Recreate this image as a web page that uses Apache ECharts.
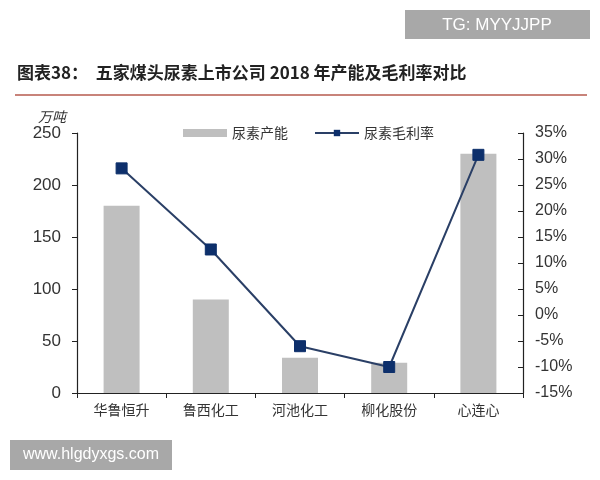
<!DOCTYPE html>
<html>
<head>
<meta charset="utf-8">
<script src="https://cdn.jsdelivr.net/npm/echarts@6/dist/echarts.min.js"></script>
<style>
html,body{margin:0;padding:0;background:#fff;}
#c{width:600px;height:480px;}
</style>
</head>
<body>
<div id="c"></div>
<script>
const categories = ['华鲁恒升', '鲁西化工', '河池化工', '柳化股份', '心连心'];
const capacity = [180, 90, 34, 29, 230];
const margin = [28.2, 12.6, -6.0, -10.0, 30.8];
const leftTicks = [0, 50, 100, 150, 200, 250];
const rightTicks = [-15, -10, -5, 0, 5, 10, 15, 20, 25, 30, 35];

const chart = echarts.init(document.getElementById('c'), null, {renderer: 'canvas'});
const cjk = '"Noto Sans CJK SC", "Noto Sans", sans-serif';
const latin = 'Arial, "Liberation Sans", sans-serif';

chart.setOption({
  backgroundColor: '#ffffff',
  animation: false,
  grid: {left: 77, right: 77, top: 133, bottom: 87},
  legend: {
    top: 121,
    left: 178,
    itemGap: 26,
    itemWidth: 44,
    itemHeight: 8,
    textStyle: {fontFamily: cjk, fontSize: 14, color: '#333'},
    data: [
      {name: '尿素产能', icon: 'rect', itemStyle: {color: '#bfbfbf'}},
      {name: '尿素毛利率'}
    ]
  },
  xAxis: {
    type: 'category',
    data: categories,
    boundaryGap: true,
    axisLine: {lineStyle: {color: '#222', width: 1.2}},
    axisTick: {show: true, alignWithLabel: false, length: 5, lineStyle: {color: '#222'}},
    axisLabel: {fontFamily: cjk, fontSize: 14, color: '#333', margin: 10}
  },
  yAxis: [
    {
      type: 'value', min: leftTicks[0], max: leftTicks[leftTicks.length - 1], interval: 50,
      position: 'left',
      axisLine: {show: true, lineStyle: {color: '#222', width: 1.2}},
      axisTick: {show: true, length: 5, lineStyle: {color: '#222'}},
      splitLine: {show: false},
      axisLabel: {fontFamily: latin, fontSize: 17, color: '#333', margin: 16}
    },
    {
      type: 'value', min: rightTicks[0], max: rightTicks[rightTicks.length - 1], interval: 5,
      position: 'right',
      axisLine: {show: true, lineStyle: {color: '#222', width: 1.2}},
      axisTick: {show: true, inside: true, length: 5, lineStyle: {color: '#222'}},
      splitLine: {show: false},
      axisLabel: {fontFamily: latin, fontSize: 16, color: '#333', margin: 12, formatter: '{value}%'}
    }
  ],
  series: [
    {
      name: '尿素产能', type: 'bar', yAxisIndex: 0, data: capacity,
      barWidth: 36,
      itemStyle: {color: '#bfbfbf'}
    },
    {
      name: '尿素毛利率', type: 'line', yAxisIndex: 1, data: margin,
      symbol: 'rect', symbolSize: 11,
      lineStyle: {color: '#2a3f66', width: 2},
      itemStyle: {color: '#0d2f6b', borderColor: '#0d2f6b'}
    }
  ],
  graphic: [
    {type: 'text', left: 17, top: 64, style: {text: '图表38：  五家煤头尿素上市公司 2018 年产能及毛利率对比', font: 'bold 17px ' + cjk, fill: '#222'}},
    {type: 'rect', shape: {x: 15, y: 94, width: 572, height: 2}, style: {fill: '#c8837a'}},
    {type: 'text', left: 38, top: 110, style: {text: '万吨', font: 'italic 14px ' + cjk, fill: '#333'}},
    {type: 'rect', shape: {x: 405, y: 10, width: 185, height: 29}, style: {fill: '#a8a8a8'}},
    {type: 'text', x: 497, y: 25, style: {text: 'TG: MYYJJPP', font: '17px ' + latin, fill: '#fff', align: 'center', verticalAlign: 'middle'}},
    {type: 'rect', shape: {x: 10, y: 440, width: 162, height: 30}, style: {fill: '#a8a8a8'}},
    {type: 'text', x: 91, y: 455, style: {text: 'www.hlgdyxgs.com', font: '16px ' + latin, fill: '#fff', align: 'center', verticalAlign: 'middle'}}
  ]
});
</script>
</body>
</html>
